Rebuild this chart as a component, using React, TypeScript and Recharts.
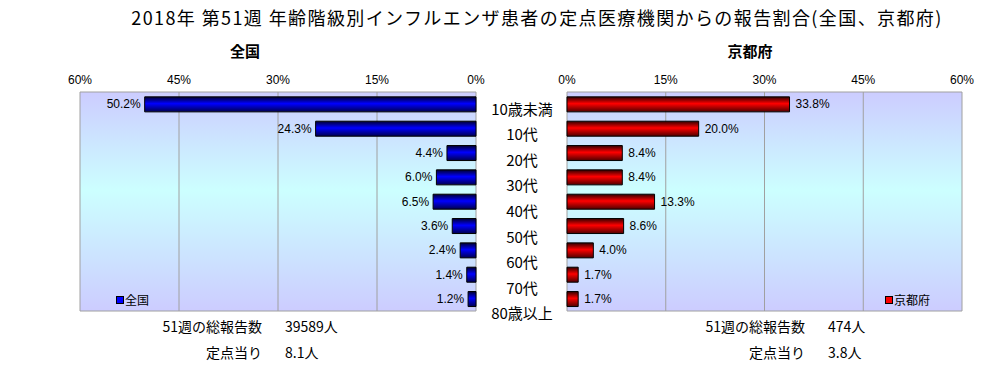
import React from 'react';
import { BarChart, Bar, XAxis, YAxis, CartesianGrid, LabelList, Legend } from 'recharts';

const ageGroups = ['10歳未満', '10代', '20代', '30代', '40代', '50代', '60代', '70代', '80歳以上'];
const nationalShare = [50.2, 24.3, 4.4, 6.0, 6.5, 3.6, 2.4, 1.4, 1.2];
const kyotoShare = [33.8, 20.0, 8.4, 8.4, 13.3, 8.6, 4.0, 1.7, 1.7];
const axisTicks = [0, 15, 30, 45, 60];
const regionNames = ['全国', '京都府'];
const totalReports = [39589, 474];
const perSentinel = [8.1, 3.8];
const weekNo = 51;

const data = ageGroups.map((age, i) => ({ age, national: nationalShare[i], kyoto: kyotoShare[i] }));

const FONT = '"Noto Sans CJK JP", "Noto Sans", sans-serif';
const LABEL_FONT = '"Liberation Sans", Arial, sans-serif';

const pct = (v: number) => `${v}%`;

const LeftValueLabel = (props: any) => {
  const { x, y, width, height, value } = props;
  const left = Math.min(Number(x), Number(x) + Number(width));
  return (
    <text x={left - 4} y={Number(y) + Number(height) / 2} dy={4} textAnchor="end" fontSize={12} fontFamily={LABEL_FONT} fill="#000">
      {Number(value).toFixed(1)}%
    </text>
  );
};

const RightValueLabel = (props: any) => {
  const { x, y, width, height, value } = props;
  const right = Math.max(Number(x), Number(x) + Number(width));
  return (
    <text x={right + 6} y={Number(y) + Number(height) / 2} dy={4} textAnchor="start" fontSize={12} fontFamily={LABEL_FONT} fill="#000">
      {Number(value).toFixed(1)}%
    </text>
  );
};

const AgeTick = (props: any) => {
  const { x, y, payload } = props;
  return (
    <text x={x - 45} y={y} dy={5} textAnchor="middle" fontSize={15} fontFamily={FONT} fill="#000">
      {payload.value}
    </text>
  );
};

const legendContent = (color: string) => (props: any) => (
  <div style={{ display: 'flex', alignItems: 'center', fontFamily: FONT, fontSize: 12 }}>
    {(props.payload || []).map((p: any) => (
      <span key={p.value} style={{ display: 'flex', alignItems: 'center' }}>
        <span style={{ width: 6, height: 6, background: color, border: '1px solid #000', marginRight: 1 }} />
        {p.value}
      </span>
    ))}
  </div>
);

const BgGradient = ({ id }: { id: string }) => (
  <linearGradient id={id} x1="0" y1="0" x2="0" y2="1">
    <stop offset="0%" stopColor="#ccccff" />
    <stop offset="45%" stopColor="#ccffff" />
    <stop offset="100%" stopColor="#ccccff" />
  </linearGradient>
);

const gridCoords = ({ offset }: any) => [offset.top, offset.top + offset.height];

const noteStyle: React.CSSProperties = { position: 'absolute', fontSize: 14, whiteSpace: 'nowrap' };

const SideNote = ({ right, idx }: { right: number; idx: number }) => (
  <>
    <div style={{ ...noteStyle, left: 0, width: right, top: 316, textAlign: 'right' }}>{weekNo}週の総報告数</div>
    <div style={{ ...noteStyle, left: right + 23, top: 316 }}>{totalReports[idx]}人</div>
    <div style={{ ...noteStyle, left: 0, width: right, top: 342, textAlign: 'right' }}>定点当り</div>
    <div style={{ ...noteStyle, left: right + 23, top: 342 }}>{perSentinel[idx]}人</div>
  </>
);

export default function App() {
  return (
    <div style={{ position: 'absolute', left: 0, top: 0, width: 1006, height: 365, background: '#fff', fontFamily: FONT, color: '#000', overflow: 'hidden' }}>
      <div style={{ position: 'absolute', left: 537, top: 4, transform: 'translateX(-50%)', whiteSpace: 'nowrap', fontSize: 18, letterSpacing: 1.4 }}>
        2018年 第{weekNo}週 年齢階級別インフルエンザ患者の定点医療機関からの報告割合(全国、京都府)
      </div>
      <div style={{ position: 'absolute', left: 245, top: 40, transform: 'translateX(-50%)', fontSize: 15, fontWeight: 'bold' }}>{regionNames[0]}</div>
      <div style={{ position: 'absolute', left: 750, top: 40, transform: 'translateX(-50%)', fontSize: 15, fontWeight: 'bold' }}>{regionNames[1]}</div>

      <div style={{ position: 'absolute', left: 0, top: 0 }}>
        <BarChart width={494} height={320} data={data} layout="vertical" margin={{ top: 62, right: 18, left: 80, bottom: 9 }} barCategoryGap="20%">
          <defs>
            <BgGradient id="bgLeft" />
            <linearGradient id="blueBar" x1="0" y1="0" x2="0" y2="1">
              <stop offset="0%" stopColor="#000030" />
              <stop offset="45%" stopColor="#0000ff" />
              <stop offset="100%" stopColor="#000050" />
            </linearGradient>
          </defs>
          <CartesianGrid fill="url(#bgLeft)" stroke="#a0a0a0" horizontalCoordinatesGenerator={gridCoords} />
          <XAxis type="number" orientation="top" reversed domain={[0, 60]} ticks={axisTicks} interval={0} tickFormatter={pct} axisLine={false} tickLine={false} height={30} tick={{ fontSize: 12, fill: '#000', fontFamily: LABEL_FONT }} />
          <YAxis type="category" dataKey="age" hide />
          <Bar dataKey="national" name={regionNames[0]} fill="url(#blueBar)" stroke="#000" strokeWidth={1} isAnimationActive={false}>
            <LabelList dataKey="national" content={LeftValueLabel} />
          </Bar>
          <Legend layout="horizontal" verticalAlign="middle" align="center" content={legendContent('#0000ff')} wrapperStyle={{ position: 'absolute', left: 116, top: 291, width: 60, height: 16 }} />
        </BarChart>
      </div>

      <div style={{ position: 'absolute', left: 476, top: 0 }}>
        <BarChart width={101} height={340} data={data} layout="vertical" margin={{ top: 97, right: 10, left: 0, bottom: 13 }}>
          <XAxis type="number" hide domain={[0, 60]} />
          <YAxis type="category" dataKey="age" orientation="left" width={91} axisLine={false} tickLine={false} tickSize={0} tickMargin={0} tick={AgeTick} interval={0} />
        </BarChart>
      </div>

      <div style={{ position: 'absolute', left: 500, top: 0 }}>
        <BarChart width={506} height={320} data={data} layout="vertical" margin={{ top: 62, right: 44, left: 67, bottom: 9 }} barCategoryGap="20%">
          <defs>
            <BgGradient id="bgRight" />
            <linearGradient id="redBar" x1="0" y1="0" x2="0" y2="1">
              <stop offset="0%" stopColor="#300000" />
              <stop offset="45%" stopColor="#ff0000" />
              <stop offset="100%" stopColor="#500000" />
            </linearGradient>
          </defs>
          <CartesianGrid fill="url(#bgRight)" stroke="#a0a0a0" horizontalCoordinatesGenerator={gridCoords} />
          <XAxis type="number" orientation="top" domain={[0, 60]} ticks={axisTicks} interval={0} tickFormatter={pct} axisLine={false} tickLine={false} height={30} tick={{ fontSize: 12, fill: '#000', fontFamily: LABEL_FONT }} />
          <YAxis type="category" dataKey="age" hide />
          <Bar dataKey="kyoto" name={regionNames[1]} fill="url(#redBar)" stroke="#000" strokeWidth={1} isAnimationActive={false}>
            <LabelList dataKey="kyoto" content={RightValueLabel} />
          </Bar>
          <Legend layout="horizontal" verticalAlign="middle" align="center" content={legendContent('#ff0000')} wrapperStyle={{ position: 'absolute', left: 385, top: 291, width: 80, height: 16 }} />
        </BarChart>
      </div>

      <SideNote right={262} idx={0} />
      <div style={{ position: 'absolute', left: 543, top: 0, width: 463 }}>
        <SideNote right={262} idx={1} />
      </div>
    </div>
  );
}
